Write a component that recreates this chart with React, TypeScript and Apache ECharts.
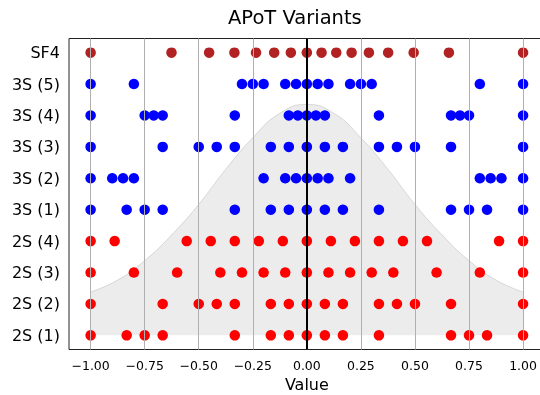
import React, { useEffect, useRef } from 'react';
import * as echarts from 'echarts';

const categories = ['2S (1)', '2S (2)', '2S (3)', '2S (4)', '3S (1)', '3S (2)', '3S (3)', '3S (4)', '3S (5)', 'SF4'];

const row2S1 = [-1, -0.8333, -0.75, -0.6667, -0.3333, -0.1667, -0.0833, 0, 0.0833, 0.1667, 0.3333, 0.6667, 0.75, 0.8333, 1];
const row2S2 = [-1, -0.6667, -0.5, -0.4167, -0.3333, -0.1667, -0.0833, 0, 0.0833, 0.1667, 0.3333, 0.4167, 0.5, 0.6667, 1];
const row2S3 = [-1, -0.8, -0.6, -0.4, -0.3, -0.2, -0.1, 0, 0.1, 0.2, 0.3, 0.4, 0.6, 0.8, 1];
const row2S4 = [-1, -0.8889, -0.5556, -0.4444, -0.3333, -0.2222, -0.1111, 0, 0.1111, 0.2222, 0.3333, 0.4444, 0.5556, 0.8889, 1];
const row3S1 = [-1, -0.8333, -0.75, -0.6667, -0.3333, -0.1667, -0.0833, 0, 0.0833, 0.1667, 0.3333, 0.6667, 0.75, 0.8333, 1];
const row3S2 = [-1, -0.9, -0.85, -0.8, -0.2, -0.1, -0.05, 0, 0.05, 0.1, 0.2, 0.8, 0.85, 0.9, 1];
const row3S3 = [-1, -0.6667, -0.5, -0.4167, -0.3333, -0.1667, -0.0833, 0, 0.0833, 0.1667, 0.3333, 0.4167, 0.5, 0.6667, 1];
const row3S4 = [-1, -0.75, -0.7083, -0.6667, -0.3333, -0.0833, -0.0417, 0, 0.0417, 0.0833, 0.3333, 0.6667, 0.7083, 0.75, 1];
const row3S5 = [-1, -0.8, -0.3, -0.25, -0.2, -0.1, -0.05, 0, 0.05, 0.1, 0.2, 0.25, 0.3, 0.8, 1];
const rowSF4 = [-1, -0.626, -0.452, -0.335, -0.235, -0.151, -0.074, 0, 0.068, 0.136, 0.207, 0.287, 0.376, 0.494, 0.657, 1];

const xTicks = [-1, -0.75, -0.5, -0.25, 0, 0.25, 0.5, 0.75, 1];
const yTicks = [0, 1, 2, 3, 4, 5, 6, 7, 8, 9];

const curveX = [-1, -0.875, -0.75, -0.625, -0.5, -0.375, -0.25, -0.125, 0, 0.125, 0.25, 0.375, 0.5, 0.625, 0.75, 0.875, 1];
const curveY = [1.38, 1.76, 2.38, 3.2, 4.17, 5.29, 6.29, 7.07, 7.35, 7.07, 6.29, 5.29, 4.17, 3.2, 2.38, 1.76, 1.38];

const FONT = 'DejaVu Sans';

function toPoints(rows: number[][], startIdx: number) {
  const pts: number[][] = [];
  rows.forEach((r, i) => r.forEach((v) => pts.push([v, startIdx + i])));
  return pts;
}

export default function App() {
  const ref = useRef<HTMLDivElement>(null);
  useEffect(() => {
    if (!ref.current) return;
    const chart = echarts.init(ref.current, null, { renderer: 'svg' });
    const fmtX = (v: number) => v.toFixed(2).replace('-', '\u2212');
    chart.setOption({
      animation: false,
      title: {
        text: 'APoT Variants',
        left: 228,
        top: 7,
        padding: 0,
        textStyle: { fontFamily: FONT, fontSize: 19.5, fontWeight: 'normal', color: '#000' },
      },
      grid: {
        left: 69,
        top: 38.5,
        right: -4.7,
        bottom: 45.5,
        containLabel: false,
        outerBoundsMode: 'none',
        show: true,
        borderColor: '#222',
        borderWidth: 1,
        backgroundColor: 'transparent',
      },
      xAxis: {
        type: 'value',
        min: -1.1,
        max: 1.1,
        name: 'Value',
        nameLocation: 'middle',
        nameGap: 26,
        nameTextStyle: { fontFamily: FONT, fontSize: 16, color: '#000' },
        axisLine: { show: false },
        axisTick: { show: true, customValues: xTicks, length: 5, lineStyle: { color: '#222' } },
        axisLabel: {
          customValues: xTicks,
          formatter: fmtX,
          fontFamily: FONT,
          fontSize: 12.5,
          color: '#000',
          margin: 9,
        },
        splitLine: { show: false },
      },
      yAxis: {
        type: 'value',
        min: -0.45,
        max: 9.45,
        axisLine: { show: false },
        axisTick: { show: true, customValues: yTicks, length: 5, lineStyle: { color: '#222' } },
        axisLabel: {
          customValues: yTicks,
          formatter: (v: number) => categories[Math.round(v)] ?? '',
          fontFamily: FONT,
          fontSize: 16,
          color: '#000',
          margin: 9,
        },
        splitLine: { show: false },
      },
      series: [
        {
          type: 'line',
          name: 'density',
          data: curveX.map((x, i) => [x, curveY[i]]),
          smooth: true,
          symbol: 'none',
          z: 1,
          silent: true,
          lineStyle: { color: 'rgba(128,128,128,0.25)', width: 1 },
          areaStyle: { color: 'rgba(128,128,128,0.22)', origin: 0 },
        },
        {
          type: 'scatter',
          name: '2S',
          data: toPoints([row2S1, row2S2, row2S3, row2S4], 0),
          symbolSize: 10.5,
          itemStyle: { color: '#ff0000', opacity: 1 },
          z: 2,
        },
        {
          type: 'scatter',
          name: '3S',
          data: toPoints([row3S1, row3S2, row3S3, row3S4, row3S5], 4),
          symbolSize: 10.5,
          itemStyle: { color: '#0000ff', opacity: 1 },
          z: 2,
        },
        {
          type: 'scatter',
          name: 'SF4',
          data: toPoints([rowSF4], 9),
          symbolSize: 10.5,
          itemStyle: { color: '#b22222', opacity: 1 },
          z: 2,
        },
        {
          type: 'line',
          name: 'grid',
          data: [],
          z: 3,
          silent: true,
          markLine: {
            z: 3,
            silent: true,
            symbol: ['none', 'none'],
            label: { show: false },
            emphasis: { disabled: true },
            lineStyle: { type: 'solid', color: '#b0b0b0', width: 1 },
            data: xTicks.map((v) => ({ xAxis: v })),
          },
        },
        {
          type: 'line',
          name: 'zero',
          data: [],
          z: 4,
          silent: true,
          markLine: {
            z: 4,
            silent: true,
            symbol: ['none', 'none'],
            label: { show: false },
            emphasis: { disabled: true },
            lineStyle: { type: 'solid', color: '#000', width: 2 },
            data: [{ xAxis: 0 }],
          },
        },
      ],
    });
    return () => chart.dispose();
  }, []);
  return <div ref={ref} style={{ position: 'fixed', left: 0, top: 0, width: 540, height: 395 }} />;
}
